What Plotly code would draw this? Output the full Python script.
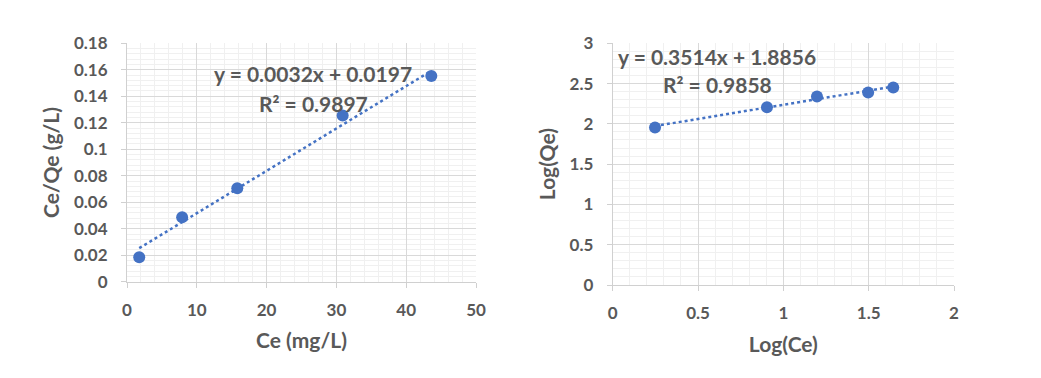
import plotly.graph_objects as go
import numpy as np

# Langmuir (left)
ce = [1.75, 7.9, 15.8, 30.9, 43.6]
ce_qe = [0.0185, 0.0487, 0.0705, 0.1255, 0.1553]
lang_slope, lang_int = 0.0032, 0.0197
lang_eq = "y = 0.0032x + 0.0197"
lang_r2 = "R² = 0.9897"

# Freundlich (right)
log_ce = [0.248, 0.904, 1.197, 1.497, 1.644]
log_qe = [1.955, 2.205, 2.34, 2.39, 2.45]
fr_slope, fr_int = 0.3514, 1.8856
fr_eq = "y = 0.3514x + 1.8856"
fr_r2 = "R² = 0.9858"

BLUE = "#4472C4"
GRAY = "#595959"
FONT = "Lato"
W, H, OFF = 1033, 370, 8  # page body adds an 8px margin

def px_x(p):
    return (p - OFF) / W

def px_y(p):
    return 1 - (p - OFF) / H

fig = go.Figure()

def add_panel(x, y, slope, inter, xa, ya):
    fig.add_trace(go.Scatter(x=x, y=y, mode="markers", xaxis=xa, yaxis=ya,
                             marker=dict(color=BLUE, size=12), showlegend=False))
    xs = np.array([min(x), max(x)])
    fig.add_trace(go.Scatter(x=xs, y=slope * xs + inter, mode="lines", xaxis=xa, yaxis=ya,
                             line=dict(color=BLUE, width=2.5, dash="dot"), showlegend=False))

add_panel(ce, ce_qe, lang_slope, lang_int, "x", "y")
add_panel(log_ce, log_qe, fr_slope, fr_int, "x2", "y2")

def axis(rng, dtick, mdtick, dom, anchor, title, standoff, lstand):
    return dict(range=rng, dtick=dtick, tick0=0, domain=dom, anchor=anchor,
                showgrid=True, gridcolor="#d9d9d9", gridwidth=1,
                minor=dict(dtick=mdtick, showgrid=True, gridcolor="#f0f0f0", gridwidth=1),
                showline=True, linecolor="#d0d0d0", linewidth=1,
                ticks="outside", ticklen=5, tickcolor="#d0d0d0",
                zeroline=False, fixedrange=True, automargin=False,
                ticklabelstandoff=lstand,
                tickfont=dict(family=FONT, size=17, color=GRAY, weight="bold"),
                title=dict(text=title, font=dict(family=FONT, size=21, color=GRAY, weight="bold"),
                           standoff=standoff))

fig.update_layout(
    width=W, height=H,
    paper_bgcolor="white", plot_bgcolor="white",
    margin=dict(l=0, r=0, t=0, b=0),
    xaxis=axis([0, 50], 10, 2, [px_x(127), px_x(476)], "y", "Ce (mg/L)", 14, 8),
    yaxis=axis([0, 0.18], 0.02, 0.004, [px_y(281.7), px_y(43.3)], "x", "Ce/Qe (g/L)", 8, 10),
    xaxis2=axis([0, 2], 0.5, 0.1, [px_x(612.7), px_x(954)], "y2", "Log(Ce)", 14, 8),
    yaxis2=axis([0, 3], 0.5, 0.1, [px_y(285), px_y(43.3)], "x2", "Log(Qe)", 8, 10),
    font=dict(family=FONT, color=GRAY),
)

ann_font = dict(family=FONT, size=21, color=GRAY, weight="bold")
for txt, px, py in [(lang_eq, 313, 73), (lang_r2, 313, 103), (fr_eq, 717, 56), (fr_r2, 717, 84)]:
    fig.add_annotation(text=txt, x=px_x(px), y=px_y(py), xref="paper", yref="paper",
                       showarrow=False, font=ann_font, xanchor="center", yanchor="middle")

fig.write_html("out.html")
